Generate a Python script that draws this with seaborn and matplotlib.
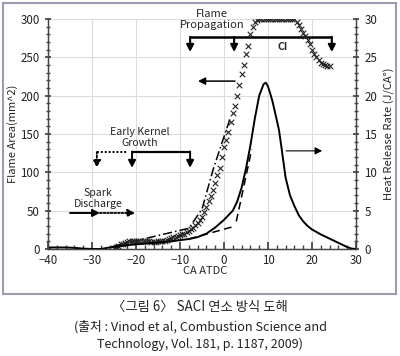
import matplotlib
matplotlib.use('Agg')
import matplotlib.pyplot as plt
from matplotlib.patches import Rectangle
from matplotlib.ticker import MultipleLocator
import seaborn as sns
import pandas as pd

# 열방출률 (J/CA°, 오른쪽 축)
hrr_ca = [-40, -38, -36, -34, -32, -30, -28, -26, -24, -22, -20, -18, -16, -14, -12, -10,
          -8, -6, -4, -2, 0, 1, 2, 3, 4, 5, 6, 7, 8, 9, 9.5, 10, 10.5, 11, 12, 12.5, 13,
          14, 15, 16, 17, 18, 19, 20, 22, 24, 26, 28, 29, 30]
hrr_val = [0.2, 0.2, 0.2, 0.15, 0.05, 0, 0, 0.2, 0.35, 0.5, 0.6, 0.7, 0.8, 0.9, 1.0, 1.15,
           1.3, 1.55, 2.0, 2.8, 3.8, 4.4, 5.0, 6.2, 8.0, 10.5, 13.5, 17.0, 20.0, 21.5, 21.7,
           21.2, 20.3, 19.3, 16.8, 15.5, 13.5, 9.3, 7.0, 5.6, 4.4, 3.6, 3.0, 2.55, 1.9, 1.35,
           0.8, 0.25, 0.05, 0]

# 화염 면적 (mm^2, 왼쪽 축)
area_ca = [-25, -24.5, -24, -23.5, -23, -22.5, -22, -21.5, -21, -20.5, -20, -19.5, -19,
           -18.5, -18, -17.5, -17, -16.5, -16, -15.5, -15, -14.5, -14, -13.5, -13, -12.5,
           -12, -11.5, -11, -10.5, -10, -9.5, -9, -8.5, -8, -7.5, -7, -6.5, -6, -5.5, -5,
           -4.5, -4, -3.5, -3, -2.5, -2, -1.5, -1, -0.5, 0, 0.5, 1, 1.5, 2, 2.5, 3, 3.5, 4,
           4.5, 5, 5.5, 6, 6.5, 7, 7.5, 8, 8.5, 9, 9.5, 10, 10.5, 11, 11.5, 12, 12.5, 13,
           13.5, 14, 14.5, 15, 15.5, 16, 16.5, 17, 17.5, 18, 18.5, 19, 19.5, 20, 20.5, 21,
           21.5, 22, 22.5, 23, 23.5, 24]
area_val = [1, 3, 4, 6, 7, 8, 9, 10, 10, 11, 11, 11, 11, 11, 10, 10, 10, 9, 9, 9, 10, 10,
            11, 11, 12, 13, 14, 15, 16, 17, 18, 19, 20, 22, 24, 26, 28, 31, 34, 38, 42, 48,
            55, 62, 69, 77, 86, 96, 106, 120, 133, 142, 153, 165, 178, 187, 200, 214, 228,
            240, 255, 265, 280, 290, 296, 299, 300, 300, 300, 300, 300, 300, 300, 300, 300,
            300, 300, 300, 300, 300, 300, 300, 300, 296, 292, 287, 282, 278, 273, 268, 260,
            255, 250, 246, 243, 241, 240, 239, 239]

# 보조선 (두 직선 근사)
dashdot_ca = [-25, -8, -5, -2.5, -0.5, 1.5]
dashdot_val = [4, 27, 52, 103, 138, 172]
dash1_ca = [-8, 2]
dash1_val = [13, 29]
dash2_ca = [2.8, 6.3]
dash2_val = [36, 130]

sns.set_theme(style='white')
plt.rcParams['font.family'] = ['Noto Sans CJK KR', 'DejaVu Sans']

fig = plt.figure(figsize=(4.0, 3.56), dpi=100)
ax = fig.add_axes([0.12, 0.3006, 0.77, 0.646])
ax2 = ax.twinx()

hrr_df = pd.DataFrame({'ca': hrr_ca, 'hrr': hrr_val})
area_df = pd.DataFrame({'ca': area_ca, 'area': area_val})

sns.lineplot(data=hrr_df, x='ca', y='hrr', ax=ax2, color='black', lw=1.4)
sns.scatterplot(data=area_df, x='ca', y='area', ax=ax, marker='x', color='#222222',
                s=16, linewidth=0.8, zorder=3)
ax.plot(dashdot_ca, dashdot_val, color='black', lw=1.1, ls=(0, (6, 2, 1, 2)))
ax.plot(dash1_ca, dash1_val, color='black', lw=1.1, ls=(0, (5, 3)))
ax.plot(dash2_ca, dash2_val, color='black', lw=1.1, ls=(0, (5, 3)))

ax.set_xlim(-40, 30)
ax.set_ylim(0, 300)
ax2.set_ylim(0, 30)
ax.set_xticks(range(-40, 31, 10))
ax.set_yticks(range(0, 301, 50))
ax2.set_yticks(range(0, 31, 5))
ax.xaxis.set_minor_locator(MultipleLocator(2))
ax.yaxis.set_minor_locator(MultipleLocator(10))
ax2.yaxis.set_minor_locator(MultipleLocator(1))

ax.grid(True, which='major', color='#dcdcdc', lw=0.8)
ax.set_axisbelow(True)
for a in (ax, ax2):
    a.spines['top'].set_visible(False)
    for s in ('left', 'right', 'bottom'):
        a.spines[s].set_color('#444444')
        a.spines[s].set_linewidth(0.9)
    a.tick_params(which='both', direction='inout', colors='#444444', labelsize=8.3,
                  labelcolor='#222222')
    a.tick_params(which='major', length=5)
    a.tick_params(which='minor', length=3)
ax.tick_params(axis='x', which='both', direction='in', bottom=True)
ax.tick_params(axis='y', which='both', left=True, right=False)
ax2.tick_params(axis='y', which='both', right=True, left=False)

ax.set_xlabel('')
ax.set_ylabel('Flame Area(mm^2)', fontsize=8)
ax2.set_ylabel('Heat Release Rate (J/CA°)', fontsize=8)
ax.yaxis.set_label_coords(-0.098, 0.5)
ax2.yaxis.set_label_coords(1.09, 0.5)
ax.text(0.51, -0.096, 'CA ATDC', transform=ax.transAxes, ha='center', va='center',
        fontsize=8)

arrow = dict(arrowstyle='-|>,head_length=0.35,head_width=0.18', color='black',
             shrinkA=0, shrinkB=0)

# Flame Propagation 구간
ax.text(-2.7, 306, 'Flame', ha='center', va='center', fontsize=8, clip_on=False)
ax.text(-2.7, 292, 'Propagation', ha='center', va='center', fontsize=8)
ax.plot([-7.7, 24.5], [276, 276], color='black', lw=1.8, solid_capstyle='butt')
for xv in (-7.7, 2.3, 24.5):
    ax.annotate('', xy=(xv, 257), xytext=(xv, 276.8),
                arrowprops=dict(arrow, lw=1.5))
ax.text(13.4, 263, 'CI', ha='center', va='center', fontsize=7.5, fontweight='bold')

# 축 방향 표시 화살표
ax.annotate('', xy=(-5.9, 219), xytext=(2.5, 219), arrowprops=dict(arrow, lw=1.1))
ax.annotate('', xy=(22.3, 128), xytext=(14.1, 128), arrowprops=dict(arrow, lw=0.8))

# Early Kernel Growth 구간
ax.text(-19.1, 152, 'Early Kernel', ha='center', va='center', fontsize=7.6)
ax.text(-19.1, 138, 'Growth', ha='center', va='center', fontsize=7.6)
ax.plot([-20.9, -7.7], [126.5, 126.5], color='black', lw=1.6, solid_capstyle='butt')
for xv in (-20.9, -7.7):
    ax.annotate('', xy=(xv, 106), xytext=(xv, 127.2),
                arrowprops=dict(arrow, lw=1.4))
ax.plot([-28.9, -22], [126.5, 126.5], color='black', lw=1.4, ls=(0, (1, 1)))
ax.annotate('', xy=(-28.9, 106), xytext=(-28.9, 126.5),
            arrowprops=dict(arrow, lw=1.3, ls=(0, (1, 1))))

# Spark Discharge 구간
ax.text(-28.6, 73, 'Spark', ha='center', va='center', fontsize=7.6)
ax.text(-28.6, 59, 'Discharge', ha='center', va='center', fontsize=7.6)
ax.annotate('', xy=(-28.2, 47), xytext=(-35, 47), arrowprops=dict(arrow, lw=1.4))
ax.annotate('', xy=(-20.2, 47), xytext=(-28.2, 47),
            arrowprops=dict(arrow, lw=1.3, ls=(0, (1, 1))))

# 테두리
fig.patches.append(Rectangle((3 / 400, 1 - 294 / 356), 393 / 400, 291 / 356,
                             transform=fig.transFigure, fill=False,
                             edgecolor='#9c9cb0', lw=1.5))

fig.text(0.5, 0.1376, '〈그림 6〉 SACI 연소 방식 도해', ha='center', va='center',
         fontsize=9.6)
fig.text(0.5, 0.0815, '(출처 : Vinod et al, Combustion Science and', ha='center',
         va='center', fontsize=9.2, color='#222222')
fig.text(0.5, 0.0337, 'Technology, Vol. 181, p. 1187, 2009)', ha='center',
         va='center', fontsize=9, color='#222222')

fig.savefig('out.png', dpi=100)
